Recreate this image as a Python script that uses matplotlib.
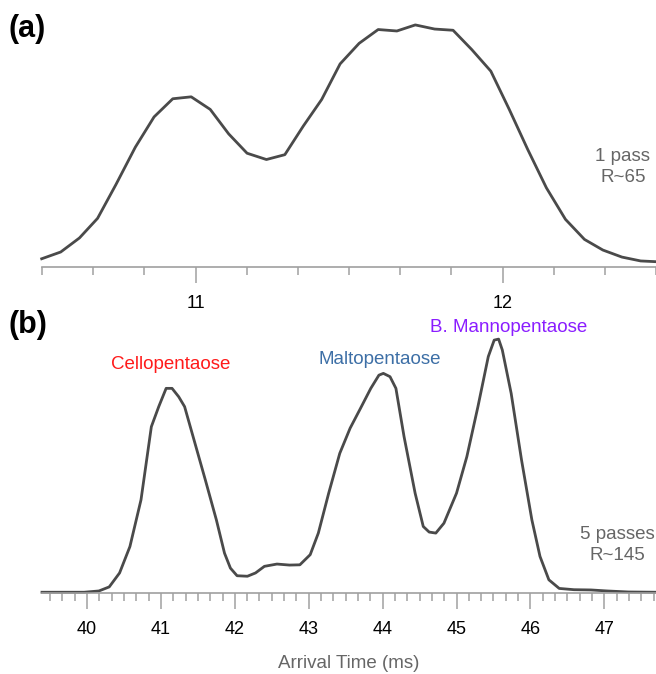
import numpy as np
import matplotlib
matplotlib.use("Agg")
import matplotlib.pyplot as plt
from matplotlib.ticker import MultipleLocator

plt.rcParams['font.family'] = ['Liberation Sans', 'DejaVu Sans']

# (a) 1 pass arrival time distribution (ms), normalised intensity
time_a = [10.499, 10.561, 10.622, 10.681, 10.741, 10.804, 10.865, 10.926, 10.986,
          11.048, 11.108, 11.168, 11.231, 11.291, 11.351, 11.411, 11.471, 11.533,
          11.595, 11.656, 11.716, 11.779, 11.839, 11.900, 11.962, 12.022, 12.082,
          12.143, 12.205, 12.267, 12.327, 12.389, 12.450, 12.499]
signal_a = [3.4, 6.2, 12.0, 20.1, 34.1, 49.5, 62.0, 69.5, 70.3,
            65.1, 55.0, 47.0, 44.4, 46.4, 58.2, 69.2, 83.9, 92.4,
            98.1, 97.5, 100.0, 98.3, 97.8, 89.8, 80.9, 65.1, 48.6,
            32.7, 19.7, 11.4, 7.0, 4.1, 2.5, 2.2]

# (b) 5 passes
time_b = [39.39, 39.96, 40.16, 40.30, 40.44, 40.58, 40.73, 40.87, 40.97, 41.07,
          41.15, 41.24, 41.32, 41.46, 41.60, 41.75, 41.86, 41.94, 42.03, 42.17,
          42.28, 42.40, 42.57, 42.74, 42.88, 43.02, 43.13, 43.27, 43.42, 43.56,
          43.70, 43.84, 43.95, 44.01, 44.10, 44.18, 44.29, 44.44, 44.55, 44.63,
          44.72, 44.83, 45.00, 45.14, 45.29, 45.43, 45.51, 45.57, 45.62, 45.74,
          45.88, 46.02, 46.13, 46.25, 46.39, 46.59, 46.82, 47.04, 47.33, 47.70]
signal_b = [0.3, 0.3, 0.8, 2.4, 7.9, 18.3, 36.7, 65.5, 73.4, 80.6,
            80.6, 77.3, 73.4, 59.0, 44.6, 28.8, 15.7, 9.8, 6.8, 6.6,
            7.9, 10.5, 11.4, 11.0, 11.1, 15.1, 23.6, 39.3, 55.0, 64.9,
            72.7, 80.6, 85.8, 86.5, 85.2, 80.6, 61.6, 39.3, 26.2, 24.0,
            23.6, 27.5, 39.3, 53.7, 73.4, 93.1, 99.6, 100.0, 95.7, 78.6,
            52.4, 28.8, 14.4, 5.2, 1.8, 1.3, 1.2, 0.8, 0.4, 0.3]

ticks_a = [11, 12]
ticks_b = [40, 41, 42, 43, 44, 45, 46, 47]

peak_names = ["Cellopentaose", "Maltopentaose", "B. Mannopentaose"]
peak_pos = [41.13, 43.96, 45.70]
peak_y = [90.0, 92.0, 104.5]
peak_colors = ["#ff1a1a", "#3d6fa6", "#8a1dff"]

line_color = "#4a4a4a"
axis_color = "#a0a0a0"
note_color = "#666666"

W, H = 656, 674
fig = plt.figure(figsize=(W / 100, H / 100), dpi=100)


def style_axis(ax, xmin, xmax, major):
    ax.set_xlim(xmin, xmax)
    for s in ["top", "left", "right"]:
        ax.spines[s].set_visible(False)
    ax.spines["bottom"].set_color(axis_color)
    ax.spines["bottom"].set_linewidth(1.2)
    ax.set_yticks([])
    ax.set_xticks(major)
    ax.xaxis.set_minor_locator(MultipleLocator(1 / 6))
    ax.tick_params(axis="x", which="major", length=11.5, width=1.1,
                   color=axis_color, labelsize=13, pad=9, labelcolor="black")
    ax.tick_params(axis="x", which="minor", length=5.5, width=1.1,
                   color=axis_color)
    ax.patch.set_visible(False)


# top panel
ax1 = fig.add_axes([42 / W, (H - 267) / H, 614 / W, 267 / H])
ax1.plot(time_a, signal_a, color=line_color, lw=2.0, clip_on=False)
ax1.set_ylim(0, 110.3)
style_axis(ax1, 10.5, 12.5, ticks_a)
ax1.text(0.946, 0.375, "1 pass\nR~65", transform=ax1.transAxes, ha="center",
         va="center", fontsize=13.5, color=note_color, linespacing=1.3)

# bottom panel
ax2 = fig.add_axes([42 / W, (H - 593) / H, 614 / W, 293 / H])
ax2.plot(time_b, signal_b, color=line_color, lw=2.0, clip_on=False)
ax2.set_ylim(0, 115.4)
style_axis(ax2, 39.39, 47.70, ticks_b)
for name, xp, yp, c in zip(peak_names, peak_pos, peak_y, peak_colors):
    ax2.text(xp, yp, name, ha="center", va="center", fontsize=13.5, color=c)
ax2.text(0.937, 0.164, "5 passes\nR~145", transform=ax2.transAxes, ha="center",
         va="center", fontsize=13.5, color=note_color, linespacing=1.3)
ax2.set_xlabel("Arrival Time (ms)", fontsize=13.5, color=note_color, labelpad=12)

fig.text(8 / W, 1 - 29 / H, "(a)", fontsize=22, fontweight="bold", va="center")
fig.text(8 / W, 1 - 325 / H, "(b)", fontsize=22, fontweight="bold", va="center")

fig.savefig("out.png", dpi=100)
